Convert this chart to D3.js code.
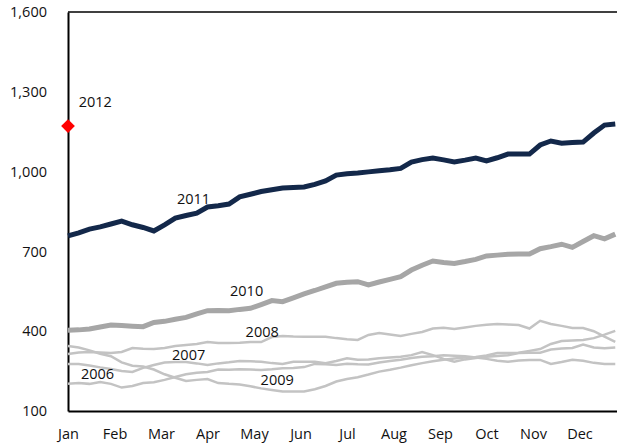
<!DOCTYPE html>
<html lang="en">
<head>
<meta charset="UTF-8">
<title>weekly by year</title>
<script src="https://d3js.org/d3.v7.min.js"></script>
<style>
  body { margin: 0; background: #fff; }
  text { font-family: "Open Sans", "Noto Sans", sans-serif; fill: #111; }
  .tick-label { font-size: 14.5px; }
  .year-label { font-size: 14.5px; }
</style>
</head>
<body>
<div id="chart"></div>
<script>
// month tick labels
var months = ["Jan", "Feb", "Mar", "Apr", "May", "Jun", "Jul", "Aug", "Sep", "Oct", "Nov", "Dec"];
var yTicks = [100, 400, 700, 1000, 1300, 1600];

// weekly values, one array per year (52 weeks)
var y2006 = [202, 205, 202, 209, 202, 188, 194, 205, 208, 217, 228, 238, 244, 247, 256, 255, 257, 256, 254, 257,
             261, 262, 265, 277, 276, 273, 278, 276, 275, 282, 288, 293, 299, 304, 306, 310, 308, 306, 301, 296,
             289, 285, 290, 292, 292, 277, 284, 293, 289, 281, 277, 277];
var y2007 = [277, 277, 271, 264, 258, 250, 247, 262, 273, 282, 284, 284, 279, 273, 279, 283, 288, 287, 285, 280,
             277, 285, 285, 285, 280, 288, 298, 293, 294, 298, 301, 304, 310, 322, 310, 296, 285, 294, 299, 304,
             307, 310, 318, 319, 319, 331, 335, 337, 350, 339, 336, 339];
var y2008 = [314, 320, 322, 320, 318, 322, 337, 334, 333, 337, 344, 348, 352, 359, 356, 356, 357, 359, 359, 378,
             382, 380, 379, 379, 379, 374, 370, 367, 386, 393, 388, 382, 390, 397, 410, 413, 408, 414, 420, 424,
             427, 425, 423, 410, 439, 427, 420, 412, 412, 400, 380, 360];
var y2009 = [344, 339, 328, 315, 306, 283, 270, 267, 256, 238, 225, 213, 217, 220, 205, 202, 200, 193, 185, 179,
             173, 173, 173, 182, 194, 211, 220, 227, 237, 248, 255, 263, 272, 280, 287, 293, 297, 301, 303, 309,
             318, 318, 319, 326, 333, 352, 363, 365, 367, 374, 387, 401];
var y2010 = [404, 405, 408, 416, 423, 421, 419, 417, 433, 437, 445, 452, 465, 477, 478, 477, 482, 486, 500, 515,
             511, 525, 540, 553, 567, 580, 584, 586, 574, 585, 595, 605, 630, 648, 664, 658, 655, 662, 670, 683,
             686, 689, 690, 690, 710, 718, 727, 715, 737, 759, 747, 765];
var y2011 = [758, 770, 784, 792, 803, 814, 800, 790, 777, 800, 825, 835, 844, 867, 872, 878, 905, 915, 925, 932,
             938, 940, 942, 952, 965, 987, 992, 995, 999, 1003, 1007, 1012, 1036, 1045, 1051, 1044, 1036, 1043, 1051, 1040,
             1052, 1066, 1066, 1066, 1100, 1115, 1107, 1109, 1111, 1145, 1175, 1179];
var y2012 = [1171];

var width = 617, height = 448;
var margin = {top: 12, right: -9, bottom: 37, left: 68};

var svg = d3.select("#chart").append("svg")
    .attr("width", width)
    .attr("height", height);

var x = d3.scaleLinear().domain([0, 52]).range([margin.left, width - margin.right]);
var y = d3.scaleLinear().domain([100, 1600]).range([height - margin.bottom, margin.top]);

// frame: top line, left axis, bottom axis
svg.append("line")
    .attr("x1", x(0)).attr("x2", width)
    .attr("y1", y(1600)).attr("y2", y(1600))
    .attr("stroke", "#404040").attr("stroke-width", 2);

var yAxis = svg.append("g")
    .attr("transform", "translate(" + x(0) + ",0)")
    .call(d3.axisLeft(y).tickValues(yTicks).tickSize(0).tickPadding(21).tickFormat(d3.format(",")));
yAxis.select(".domain").attr("stroke", "#000").attr("stroke-width", 2);
yAxis.selectAll("text").attr("class", "tick-label").attr("font-size", null).attr("font-family", null);

var xAxis = svg.append("g")
    .attr("transform", "translate(0," + y(100) + ")")
    .call(d3.axisBottom(x)
        .tickValues(months.map(function(m, i) { return i * 52 / 12; }))
        .tickSize(0).tickPadding(18)
        .tickFormat(function(d, i) { return months[i]; }));
xAxis.select(".domain").attr("stroke", "#000").attr("stroke-width", 2);
xAxis.selectAll("text").attr("class", "tick-label").attr("font-size", null).attr("font-family", null);

// lines, older years first so 2011 sits on top
var series = [
  {name: "2006", values: y2006, color: "#c3c3c3", w: 2.5},
  {name: "2007", values: y2007, color: "#c3c3c3", w: 2.5},
  {name: "2008", values: y2008, color: "#c3c3c3", w: 2.5},
  {name: "2009", values: y2009, color: "#c3c3c3", w: 2.5},
  {name: "2010", values: y2010, color: "#a6a6a6", w: 5},
  {name: "2011", values: y2011, color: "#13284a", w: 5}
];

var line = d3.line()
    .x(function(d, i) { return x(i); })
    .y(function(d) { return y(d); });

svg.append("g").selectAll("path")
    .data(series)
    .enter().append("path")
      .attr("d", function(d) { return line(d.values); })
      .attr("fill", "none")
      .attr("stroke", function(d) { return d.color; })
      .attr("stroke-width", function(d) { return d.w; })
      .attr("stroke-linejoin", "miter");

// 2012 point
svg.append("path")
    .attr("d", d3.symbol().type(d3.symbolDiamond2).size(120))
    .attr("transform", "translate(" + x(0) + "," + y(y2012[0]) + ")")
    .attr("fill", "#ff0000");

// year labels
var labels = [
  {text: "2012", wk: 1.0, v: 1263},
  {text: "2011", wk: 10.15, v: 899},
  {text: "2010", wk: 15.1, v: 550},
  {text: "2008", wk: 16.55, v: 397},
  {text: "2007", wk: 9.7, v: 312},
  {text: "2006", wk: 1.2, v: 240},
  {text: "2009", wk: 17.95, v: 216}
];

svg.append("g").selectAll("text")
    .data(labels)
    .enter().append("text")
      .attr("class", "year-label")
      .attr("x", function(d) { return x(d.wk); })
      .attr("y", function(d) { return y(d.v); })
      .attr("dy", "0.35em")
      .text(function(d) { return d.text; });
</script>
</body>
</html>
